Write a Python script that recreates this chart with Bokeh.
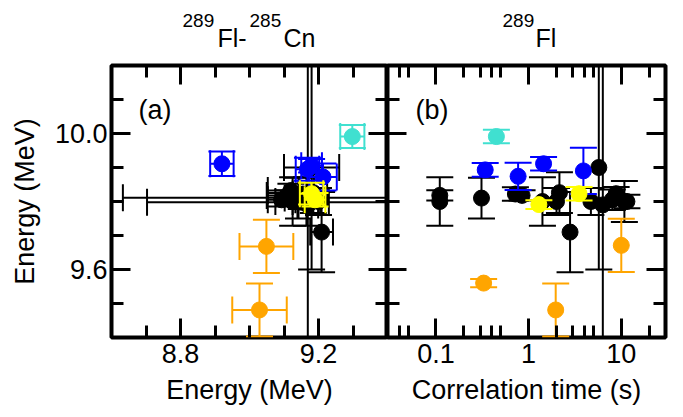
import numpy as np
from bokeh.plotting import figure
from bokeh.models import Range1d, FixedTicker, LinearAxis, LogAxis, Label, PrintfTickFormatter
from bokeh.layouts import row, column
from bokeh.embed import file_html
from bokeh.resources import INLINE

FONT = "Liberation Sans"

# ---------------- panel (a): 289Fl-285Cn energy correlation ----------------
# x = E(285Cn) [MeV], y = E(289Fl) [MeV]
a_black_x    = [9.18, 9.169, 9.13, 9.15, 9.209, 9.093, 9.110, 9.125, 9.142, 9.155, 9.165, 9.185, 9.20, 9.12]
a_black_y    = [9.90, 9.79, 9.811, 9.798, 9.710, 9.805, 9.818, 9.80, 9.81, 9.822, 9.80, 9.826, 9.80, 9.832]
a_black_xerr = [0.08, 0.03, 0.497, 0.447, 0.033, 0.04, 0.06, 0.05, 0.04, 0.03, 0.04, 0.04, 0.03, 0.067]
a_black_yerr = [0.30, 0.45, 0.02, 0.02, 0.118, 0.02, 0.015, 0.071, 0.06, 0.02, 0.071, 0.06, 0.04, 0.02]

a_blue_x    = [8.92, 9.168, 9.213, 9.18]
a_blue_y    = [9.911, 9.895, 9.872, 9.905]
a_blue_xerr = [0.034, 0.034, 0.04, 0.03]
a_blue_yerr = [0.036, 0.034, 0.04, 0.02]

a_yellow_x    = [9.18, 9.19]
a_yellow_y    = [9.823, 9.805]
a_yellow_xerr = [0.034, 0.03]
a_yellow_yerr = [0.032, 0.02]

a_orange_x    = [9.049, 9.029]
a_orange_y    = [9.668, 9.481]
a_orange_xerr = [0.078, 0.079]
a_orange_yerr = [0.078, 0.078]

a_cyan_x    = [9.298]
a_cyan_y    = [9.991]
a_cyan_xerr = [0.035]
a_cyan_yerr = [0.034]

# ---------------- panel (b): 289Fl energy vs correlation time ----------------
b_black_t    = [0.11, 0.11, 0.31, 0.72, 0.85, 1.41, 2.0, 2.15, 2.8, 4.7, 5.72, 6.32, 8.0, 8.8, 10.8, 11.5]
b_black_y    = [9.818, 9.80, 9.81, 9.822, 9.818, 9.80, 9.80, 9.826, 9.71, 9.80, 9.90, 9.79, 9.805, 9.823, 9.80, 9.80]
b_black_yerr = [0.015, 0.071, 0.06, 0.02, 0.015, 0.071, 0.04, 0.06, 0.118, 0.04, 0.30, 0.45, 0.03, 0.02, 0.06, 0.02]

b_blue_t    = [0.34, 0.77, 1.45, 3.9]
b_blue_y    = [9.893, 9.874, 9.911, 9.89]
b_blue_yerr = [0.02, 0.04, 0.02, 0.068]

b_yellow_t    = [1.29, 3.5]
b_yellow_y    = [9.791, 9.823]
b_yellow_yerr = [0.013, 0.02]

b_orange_t    = [0.327, 1.96, 10.0]
b_orange_y    = [9.56, 9.481, 9.671]
b_orange_yerr = [0.012, 0.078, 0.078]

b_cyan_t    = [0.449]
b_cyan_y    = [9.991]
b_cyan_yerr = [0.02]

# axes / ticks
a_xlim = (8.6, 9.4)
b_xlim = (0.03, 30.0)
ylim = (9.4, 10.2)
a_xmajor = [8.8, 9.2]
a_xminor = [8.7, 8.9, 9.0, 9.1, 9.3]
ymajor = [9.6, 10.0]
yminor = [9.5, 9.7, 9.8, 9.9, 10.1]
b_xmajor = [0.1, 1, 10]
b_xminor = [0.04, 0.05, 0.2, 0.3, 0.4, 0.5, 2, 3, 4, 5, 20]

BLACK, BLUE, YELLOW, ORANGE, CYAN = "black", "#0000ff", "#ffff00", "#ffa500", "#40e0d0"
MSIZE = 16
CAP = 27
LW = 2

LEFT_W, FRAME_A, FRAME_B, RIGHT_W = 111, 276, 278, 8
TITLE_H, FRAME_H = 63, 272


def errbars(p, x, y, yerr, color, xerr=None):
    x = np.asarray(x, float)
    y = np.asarray(y, float)
    yerr = np.asarray(yerr, float)
    p.segment(x, y - yerr, x, y + yerr, line_color=color, line_width=LW)
    p.scatter(np.concatenate([x, x]), np.concatenate([y - yerr, y + yerr]),
              marker="dash", size=CAP, line_color=color, line_width=LW)
    if xerr is not None:
        xerr = np.asarray(xerr, float)
        p.segment(x - xerr, y, x + xerr, y, line_color=color, line_width=LW)
        p.scatter(np.concatenate([x - xerr, x + xerr]), np.concatenate([y, y]),
                  marker="dash", angle=np.pi / 2, size=CAP, line_color=color, line_width=LW)
    p.scatter(x, y, marker="circle", size=MSIZE, fill_color=color, line_color=color)


def style_axis(ax, show_labels):
    ax.major_tick_in = 19
    ax.major_tick_out = 0
    ax.minor_tick_in = 12
    ax.minor_tick_out = 0
    ax.major_tick_line_width = 3
    ax.minor_tick_line_width = 3
    ax.major_tick_line_color = "black"
    ax.minor_tick_line_color = "black"
    ax.axis_line_color = None
    ax.major_label_text_font = FONT
    ax.axis_label_text_font = FONT
    ax.axis_label_text_font_style = "normal"
    ax.axis_label_text_font_size = "27px"
    ax.axis_label_text_color = "black"
    if show_labels:
        ax.major_label_text_font_size = "27px"
        ax.major_label_text_color = "black"
    else:
        ax.major_label_text_font_size = "1px"
        ax.major_label_text_color = None
        ax.major_label_standoff = 0


def base_fig(**kw):
    p = figure(output_backend="svg", toolbar_location=None, frame_height=FRAME_H,
               y_range=Range1d(*ylim), min_border_top=2, min_border_bottom=60,
               background_fill_color="white", border_fill_color="white", **kw)
    p.xgrid.visible = False
    p.ygrid.visible = False
    p.outline_line_color = "black"
    p.outline_line_width = 4
    return p


def title_fig(**kw):
    t = figure(output_backend="svg", toolbar_location=None, frame_height=TITLE_H,
               y_range=Range1d(0, 1), min_border_top=0, min_border_bottom=0,
               x_axis_location=None, y_axis_location=None,
               background_fill_color="white", border_fill_color="white", **kw)
    t.xgrid.visible = False
    t.ygrid.visible = False
    t.outline_line_color = None
    return t


yticker = FixedTicker(ticks=ymajor, minor_ticks=yminor)

# ---------- left panel ----------
p1 = base_fig(frame_width=FRAME_A, x_range=Range1d(*a_xlim), min_border_left=LEFT_W, min_border_right=0)
xt1 = FixedTicker(ticks=a_xmajor, minor_ticks=a_xminor)
p1.xaxis.ticker = xt1
p1.xaxis.formatter = PrintfTickFormatter(format="%.1f")
p1.yaxis.ticker = yticker
p1.yaxis.formatter = PrintfTickFormatter(format="%.1f")
style_axis(p1.xaxis[0], True)
style_axis(p1.yaxis[0], True)
p1.xaxis.axis_label = "Energy (MeV)"
p1.yaxis.axis_label = "Energy (MeV)"
p1.xaxis.major_label_standoff = 6
p1.xaxis.axis_label_standoff = 9
p1.yaxis.major_label_standoff = 4
p1.yaxis.axis_label_standoff = 12
top1 = LinearAxis(ticker=xt1)
style_axis(top1, False)
p1.add_layout(top1, "above")
right1 = LinearAxis(ticker=yticker)
style_axis(right1, False)
p1.add_layout(right1, "right")

errbars(p1, a_black_x, a_black_y, a_black_yerr, BLACK, a_black_xerr)
errbars(p1, a_blue_x, a_blue_y, a_blue_yerr, BLUE, a_blue_xerr)
errbars(p1, a_yellow_x, a_yellow_y, a_yellow_yerr, YELLOW, a_yellow_xerr)
errbars(p1, a_orange_x, a_orange_y, a_orange_yerr, ORANGE, a_orange_xerr)
errbars(p1, a_cyan_x, a_cyan_y, a_cyan_yerr, CYAN, a_cyan_xerr)

p1.add_layout(Label(x=a_xlim[0], y=ylim[1], x_offset=27, y_offset=-44, text="(a)",
                    text_font=FONT, text_font_size="27px", text_align="left",
                    text_baseline="middle", text_color="black"))

# ---------- right panel ----------
p2 = base_fig(frame_width=FRAME_B, x_range=Range1d(*b_xlim), x_axis_type="log",
              min_border_left=0, min_border_right=RIGHT_W)
xt2 = FixedTicker(ticks=b_xmajor, minor_ticks=b_xminor)
p2.xaxis.ticker = xt2
p2.xaxis.formatter = PrintfTickFormatter(format="%g")
p2.yaxis.ticker = yticker
style_axis(p2.xaxis[0], True)
style_axis(p2.yaxis[0], False)
p2.xaxis.axis_label = "Correlation time (s)"
p2.xaxis.major_label_standoff = 6
p2.xaxis.axis_label_standoff = 9
top2 = LogAxis(ticker=xt2)
style_axis(top2, False)
p2.add_layout(top2, "above")
right2 = LinearAxis(ticker=yticker)
style_axis(right2, False)
p2.add_layout(right2, "right")

errbars(p2, b_black_t, b_black_y, b_black_yerr, BLACK)
errbars(p2, b_blue_t, b_blue_y, b_blue_yerr, BLUE)
errbars(p2, b_yellow_t, b_yellow_y, b_yellow_yerr, YELLOW)
errbars(p2, b_orange_t, b_orange_y, b_orange_yerr, ORANGE)
errbars(p2, b_cyan_t, b_cyan_y, b_cyan_yerr, CYAN)

p2.add_layout(Label(x=b_xlim[0], y=ylim[1], x_offset=28, y_offset=-44, text="(b)",
                    text_font=FONT, text_font_size="27px", text_align="left",
                    text_baseline="middle", text_color="black"))

# ---------- titles (own strips above the panels, same x scales) ----------
t1 = title_fig(frame_width=FRAME_A, x_range=Range1d(*a_xlim), min_border_left=LEFT_W, min_border_right=0)
ax_c = (a_xlim[0] + a_xlim[1]) / 2
for txt, dx, dy, fs in [("289", -67, 43, "19px"), ("Fl-", -32, 26, "25px"),
                        ("285", 0, 43, "19px"), ("Cn", 34, 26, "25px")]:
    t1.add_layout(Label(x=ax_c, y=0, x_offset=dx, y_offset=dy, text=txt,
                        text_font=FONT, text_font_size=fs, text_align="left",
                        text_baseline="alphabetic", text_color="black"))

t2 = title_fig(frame_width=FRAME_B, x_range=Range1d(*b_xlim), x_axis_type="log",
               min_border_left=0, min_border_right=RIGHT_W)
bx_c = float(np.sqrt(b_xlim[0] * b_xlim[1]))
for txt, dx, dy, fs in [("289", -24, 43, "19px"), ("Fl", 9, 26, "25px")]:
    t2.add_layout(Label(x=bx_c, y=0, x_offset=dx, y_offset=dy, text=txt,
                        text_font=FONT, text_font_size=fs, text_align="left",
                        text_baseline="alphabetic", text_color="black"))

layout = column(row(t1, t2), row(p1, p2))
open("out.html", "w").write(file_html(layout, INLINE))
